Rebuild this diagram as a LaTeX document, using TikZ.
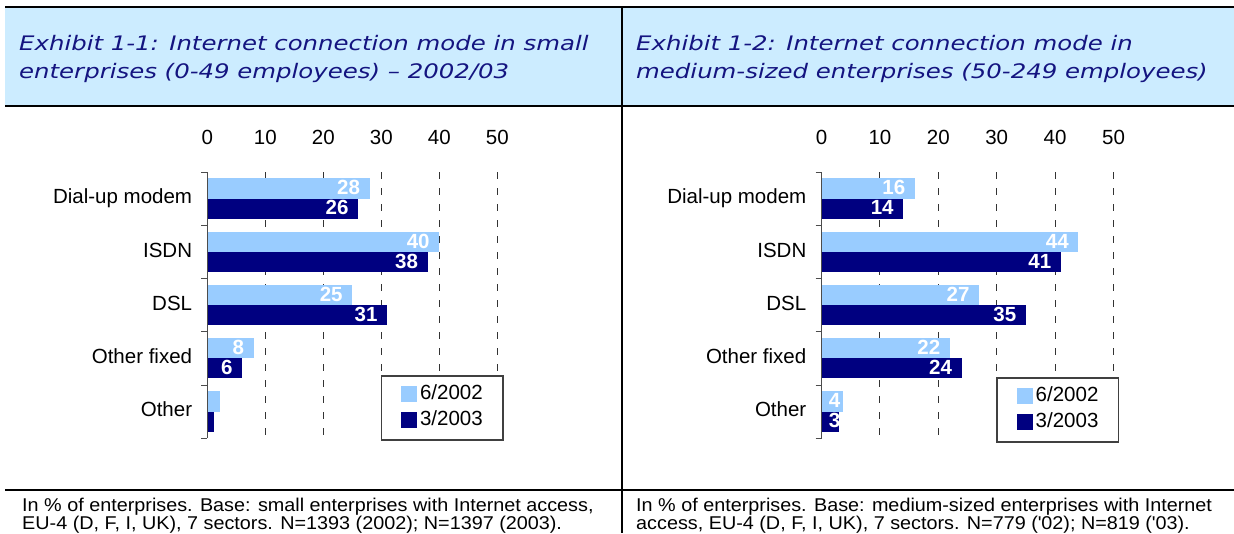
\documentclass[tikz,border=0pt]{standalone}
\usepackage{fontspec}
\setmainfont{Liberation Sans}
\newfontfamily\headfont{DejaVu Sans}[FakeStretch=1.22]
\newfontfamily\notefont{Liberation Sans}[FakeStretch=1.07]
\definecolor{headblue}{RGB}{204,236,255}
\definecolor{headnavy}{RGB}{20,20,128}
\definecolor{barlight}{RGB}{153,204,255}
\definecolor{bardark}{RGB}{0,0,128}

\begin{document}
\begin{tikzpicture}[x=1pt, y=-1pt,
    frameline/.style={line width=2pt, black},
    headtext/.style={font=\headfont\itshape\fontsize{20}{24}\selectfont, text=headnavy, anchor=base west, inner sep=0pt},
    notetext/.style={font=\notefont\fontsize{18.5}{22}\selectfont, anchor=base west, inner sep=0pt},
    axislabel/.style={font=\fontsize{20.5}{24}\selectfont, anchor=base, inner sep=0pt},
    catlabel/.style={font=\fontsize{20.5}{24}\selectfont, anchor=base east, inner sep=0pt},
    barlabel/.style={font=\bfseries\fontsize{20.5}{24}\selectfont, text=white, anchor=base east, inner sep=0pt},
    gridline/.style={black!80, line width=1pt, dash pattern=on 7pt off 9pt},
    axisline/.style={black!70, line width=1pt},
    lightbar/.style={fill=barlight},
    darkbar/.style={fill=bardark},
    legendbox/.style={draw=black!75, line width=1.5pt, fill=white, minimum width=121.7pt, minimum height=64pt, inner sep=0pt},
    legendtext/.style={font=\fontsize{20.5}{24}\selectfont, anchor=base west, inner sep=0pt}
]
    \useasboundingbox (0,0) rectangle (1234,533);

    % frame and headings
    \fill[headblue] (5,8) rectangle (1234,105);
    \draw[frameline] (5,7) -- (1234,7);
    \draw[frameline] (5,106) -- (1234,106);
    \draw[frameline] (5,490) -- (1234,490);
    \draw[frameline] (622,7) -- (622,533);

    \node[headtext] (headA1) at (19,50) {Exhibit 1-1: Internet connection mode in small};
    \node[headtext] (headA2) at (19,78.5) {enterprises (0-49 employees) – 2002/03};
    \node[headtext] (headB1) at (636,50) {Exhibit 1-2: Internet connection mode in};
    \node[headtext] (headB2) at (636,78.5) {medium-sized enterprises (50-249 employees)};

    \node[notetext] (noteA1) at (22,511) {In \% of enterprises. Base: small enterprises with Internet access,};
    \node[notetext] (noteA2) at (22,529.5) {EU-4 (D, F, I, UK), 7 sectors. N=1393 (2002); N=1397 (2003).};
    \node[notetext] (noteB1) at (636,511) {In \% of enterprises. Base: medium-sized enterprises with Internet};
    \node[notetext] (noteB2) at (636,529.5) {access, EU-4 (D, F, I, UK), 7 sectors. N=779 (\textquotesingle 02); N=819 (\textquotesingle 03).};

    % small enterprises
    \begin{scope}[shift={(207.3,172.3)}]
        \def\u{5.8}
        \foreach \g in {10,20,...,50}
            \draw[gridline] (\g*\u,0) -- (\g*\u,266);
        \foreach \g in {0,10,...,50}
            \node[axislabel] (slax\g) at (\g*\u,-28.3) {\g};
        \foreach \name/\a/\la/\b/\lb [count=\i from 0] in {Dial-up modem/28/28/26/26, ISDN/40/40/38/38, DSL/25/25/31/31, Other fixed/8/8/6/6, Other/2.2/{}/1.1/{}} {
            \fill[lightbar] (0,\i*53.2+6) rectangle (\a*\u,\i*53.2+26.5);
            \fill[darkbar] (0,\i*53.2+26.5) rectangle (\b*\u,\i*53.2+46.5);
            \pgfmathsetmacro\xa{max(\a*\u-9.5,19)}
            \pgfmathsetmacro\xb{max(\b*\u-9.5,19)}
            \node[barlabel] (slla\i) at (\xa,\i*53.2+22.5) {\la};
            \node[barlabel] (sllb\i) at (\xb,\i*53.2+42.5) {\lb};
            \node[catlabel] (slcat\i) at (-15,\i*53.2+31.5) {\name};
        }
        \draw[axisline] (0,0) -- (0,266);
        \foreach \k in {0,...,5}
            \draw[axisline] (-6,\k*53.2) -- (0,\k*53.2);
        \node[legendbox] (sllegend) at (234.85,235.7) {};
        \fill[lightbar] (193.7,213.7) rectangle (209.7,229.7);
        \fill[darkbar] (193.7,239.4) rectangle (209.7,255.4);
        \node[legendtext] (slkeyA) at (212.5,227.5) {6/2002};
        \node[legendtext] (slkeyB) at (212.5,253) {3/2003};
    \end{scope}

    % medium-sized enterprises
    \begin{scope}[shift={(821.5,172.3)}]
        \def\u{5.84}
        \foreach \g in {10,20,...,50}
            \draw[gridline] (\g*\u,0) -- (\g*\u,266);
        \foreach \g in {0,10,...,50}
            \node[axislabel] (mdax\g) at (\g*\u,-28.3) {\g};
        \foreach \name/\a/\la/\b/\lb [count=\i from 0] in {Dial-up modem/16/16/14/14, ISDN/44/44/41/41, DSL/27/27/35/35, Other fixed/22/22/24/24, Other/3.6/4/3/3} {
            \fill[lightbar] (0,\i*53.2+6) rectangle (\a*\u,\i*53.2+26.5);
            \fill[darkbar] (0,\i*53.2+26.5) rectangle (\b*\u,\i*53.2+46.5);
            \pgfmathsetmacro\xa{max(\a*\u-9.5,19)}
            \pgfmathsetmacro\xb{max(\b*\u-9.5,19)}
            \node[barlabel] (mdla\i) at (\xa,\i*53.2+22.5) {\la};
            \node[barlabel] (mdlb\i) at (\xb,\i*53.2+42.5) {\lb};
            \node[catlabel] (mdcat\i) at (-15,\i*53.2+31.5) {\name};
        }
        \draw[axisline] (0,0) -- (0,266);
        \foreach \k in {0,...,5}
            \draw[axisline] (-6,\k*53.2) -- (0,\k*53.2);
        \node[legendbox] (mdlegend) at (236.3,237.7) {};
        \fill[lightbar] (195.2,215.7) rectangle (211.2,231.7);
        \fill[darkbar] (195.2,241.4) rectangle (211.2,257.4);
        \node[legendtext] (mdkeyA) at (214,229.5) {6/2002};
        \node[legendtext] (mdkeyB) at (214,255) {3/2003};
    \end{scope}
\end{tikzpicture}
\end{document}
